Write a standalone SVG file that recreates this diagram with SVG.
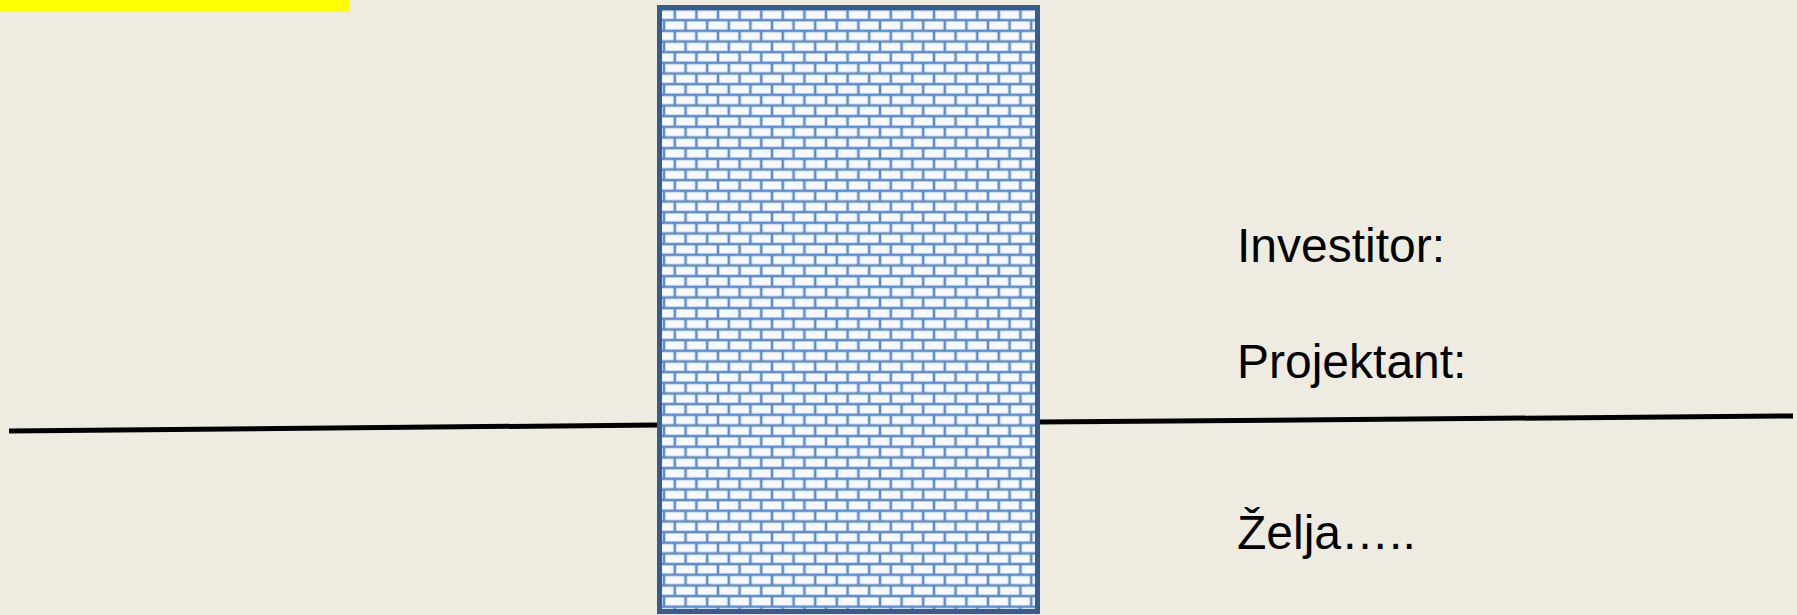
<svg xmlns="http://www.w3.org/2000/svg" width="1797" height="615" viewBox="0 0 1797 615">
<style>
.t{font-family:"Liberation Sans",Arial,sans-serif;font-size:48px;fill:#000}
.ln{stroke:#000;stroke-width:5;fill:none}
</style>
<defs>
<pattern id="brick" patternUnits="userSpaceOnUse" x="664" y="9.5" width="21.6" height="21.33">
<rect width="21.6" height="21.33" fill="#F7F9FC"/>
<g stroke="#5B8CCB" stroke-width="2.6">
<line x1="0" y1="0" x2="21.6" y2="0"/>
<line x1="0" y1="10.67" x2="21.6" y2="10.67"/>
<line x1="0" y1="21.33" x2="21.6" y2="21.33"/>
<line x1="10.8" y1="0" x2="10.8" y2="10.67"/>
<line x1="0" y1="10.67" x2="0" y2="21.33"/>
<line x1="21.6" y1="10.67" x2="21.6" y2="21.33"/>
</g>
</pattern>
</defs>
<rect width="1797" height="615" fill="#EEECE1"/>
<g id="label-tab"><rect x="0" y="0" width="350" height="12" fill="#FFFF00"/></g>
<g id="connectors">
<line class="ln" x1="9" y1="431" x2="658" y2="425"/>
<line class="ln" x1="1038" y1="422" x2="1793" y2="416"/>
</g>
<g id="wall"><rect x="659.5" y="7.5" width="378" height="604" fill="url(#brick)" stroke="#385D8A" stroke-width="5"/></g>
<g id="texts">
<text class="t" x="1237" y="262">Investitor:</text>
<text class="t" x="1237" y="378">Projektant:</text>
<text class="t" x="1237" y="549">Želja…..</text>
</g>
</svg>
